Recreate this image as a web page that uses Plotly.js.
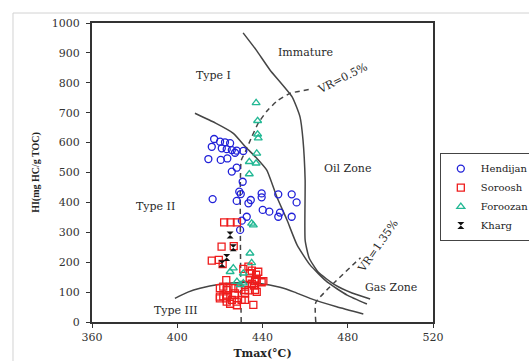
<!DOCTYPE html>
<html>
<head>
<meta charset="utf-8">
<script src="https://cdn.plot.ly/plotly-3.0.1.min.js"></script>
<style>html,body{margin:0;padding:0;background:#fff;}#chart{width:529px;height:361px;}</style>
</head>
<body>
<div id="chart"></div>
<script>
// ---- Sample data (Tmax °C, HI mg HC/g TOC) ----
const hendijanT = [417.3,420.1,422.4,424.8,416.2,420.9,423.2,425.6,427.9,427.1,431.0,414.6,420.4,423.5,425.6,427.9,430.7,429.1,429.8,416.6,427.9,434.5,433.4,439.6,439.6,447.4,453.7,456.0,440.1,443.2,448.2,447.4,453.7,432.6,430.3,429.5];
const hendijanHI = [612,603,601,598,586,581,578,575,573,566,572,545,542,547,503,516,469,436,428,411,405,408,397,430,417,427,427,400,375,369,366,352,352,352,339,308];

const sorooshT = [422,425,428,420.8,426.5,416.2,419.5,421.3,433.4,431,435,438,434.1,437,434,423,437.3,436.5,440.4,439.6,435,431.8,436,421.6,420,424,426.3,428.7,423.2,431.8,433.4,436.5,437.3,427.1,431.8,427,420,421.6,423.2,420,423,425.6,430.2,431.8,423.2,427.9,424.8,428,435.7];
const sorooshHI = [333,333,333,252,254,205,208,194,185,178,172,168,163,158,146,140,141,137,137,133,128,124,122,118,113,113,113,112,107,107,106,107,101,96,95,90,85,86,88,79,79,74,74,74,68,68,61,56,57];

const foroozanT = [437,437.7,437.7,438,437.3,433.8,437,433.8,434.9,435.7,434.1,434.9,426.3,424.8,431,428,431,429.5];
const foroozanHI = [733,673,628,615,564,536,531,495,330,324,230,198,180,168,163,135,130,124];

const khargT = [424.8,426.3,423.2,421];
const khargHI = [291,248,216,195];

// ---- Boundary curves ----
const immatureT = [430.9,437,443.5,453.9,457.6,459,460,460,461.9,466.1,474,482,490.5];
const immatureHI = [967,910,843,753,686,609,475,274,214,167,124,97,77];

const typeIT = [408.3,418,426.3,432,437,442,446.7,451.5,456.2,462.3,470.3,479.7,489];
const typeIHI = [698,665,631,586,550,508,419,341,258,191,134,90,60];

const typeIIIT = [398.9,405,410.7,420,430,438.8,448.2,455,462.3,474.8,487.3];
const typeIIIHI = [79,100,113,126,132,129,116,100,79,51,27];

const vr05T = [430,430,432,435,438,442,447,453,462];
const vr05HI = [0,540,570,620,665,705,740,765,778];

const vr135T = [465,465,486];
const vr135HI = [0,65,215];

// ---- Labels ----
const zoneLabels = ["Immature","Type I","Oil Zone","Type II","Type III","Gas Zone","VR=0.5%","VR=1.35%"];
const zoneLabelT = [460.4,417.2,479.7,390,399.4,500.3,477.3,494.2];
const zoneLabelHI = [900,826,515,385,40,117,816,251];
const zoneLabelAngle = [0,0,0,0,0,0,-27,-55];

const serif = "DejaVu Serif, Liberation Serif, serif";
const lineCol = "#454545";

const curve = (x, y) => ({x, y, mode:'lines', type:'scatter', showlegend:false, hoverinfo:'skip',
  line:{color:lineCol, width:1.5, shape:'spline', smoothing:0.5}});
const dashed = (x, y) => ({x, y, mode:'lines', type:'scatter', showlegend:false, hoverinfo:'skip',
  line:{color:lineCol, width:1.5, dash:'5px,4px', shape:'spline', smoothing:0.4}});

const traces = [
  curve(immatureT, immatureHI),
  curve(typeIT, typeIHI),
  curve(typeIIIT, typeIIIHI),
  dashed(vr05T, vr05HI),
  dashed(vr135T, vr135HI),
  {x:hendijanT, y:hendijanHI, name:'Hendijan', mode:'markers', type:'scatter',
   marker:{symbol:'circle-open', size:7, color:'#2020d8', line:{width:1.3}}},
  {x:sorooshT, y:sorooshHI, name:'Soroosh', mode:'markers', type:'scatter',
   marker:{symbol:'square-open', size:7, color:'#ee1c1c', line:{width:1.3}}},
  {x:foroozanT, y:foroozanHI, name:'Foroozan', mode:'markers', type:'scatter',
   marker:{symbol:'triangle-up-open', size:7, color:'#22b894', line:{width:1.3}}},
  {x:khargT, y:khargHI, name:'Kharg', mode:'markers', type:'scatter',
   marker:{symbol:'hourglass', size:7, color:'#111111', line:{width:0}}}
];

const annotations = zoneLabels.map((t,i) => ({
  x: zoneLabelT[i], y: zoneLabelHI[i], xref:'x', yref:'y', text:t, showarrow:false,
  textangle: zoneLabelAngle[i], font:{family:serif, size:11, color:'#2a2a2a'}
}));

const axisCommon = {
  showline:true, mirror:true, linewidth:2, linecolor:'#333', ticks:'outside', ticklen:4,
  tickwidth:1, tickcolor:'#333', showgrid:false, zeroline:false,
  tickfont:{family:serif, size:11, color:'#333'}
};

const layout = {
  width:529, height:361,
  margin:{l:92, r:96, t:23, b:39, autoexpand:false},
  paper_bgcolor:'#fff', plot_bgcolor:'#fff',
  xaxis: Object.assign({}, axisCommon, {range:[360,520], dtick:40, tick0:360,
    title:{text:'Tmax(°C)', font:{family:'DejaVu Serif, serif', size:11, color:'#222', weight:'bold'}, standoff:6}}),
  yaxis: Object.assign({}, axisCommon, {range:[0,1000], dtick:100, tick0:0, ticklabelstandoff:4,
    title:{text:'HI(mg HC/g TOC)', font:{family:'Liberation Serif, serif', size:10, color:'#222', weight:'bold'}, standoff:10}}),
  showlegend:true,
  legend:{x:1.02, y:0.565, xanchor:'left', yanchor:'top', bgcolor:'#fff', bordercolor:'#444', borderwidth:1,
    font:{family:serif, size:10, color:'#222'}, itemwidth:30, tracegroupgap:0},
  annotations: annotations,
  shapes:[{type:'rect', xref:'paper', yref:'paper', x0:-0.2317, x1:1.6, y0:-0.5, y1:1.0334,
    line:{color:'#d2d2d2', width:1}, fillcolor:'rgba(0,0,0,0)', layer:'below'}]
};

Plotly.newPlot('chart', traces, layout, {displayModeBar:false, staticPlot:true});
</script>
</body>
</html>
